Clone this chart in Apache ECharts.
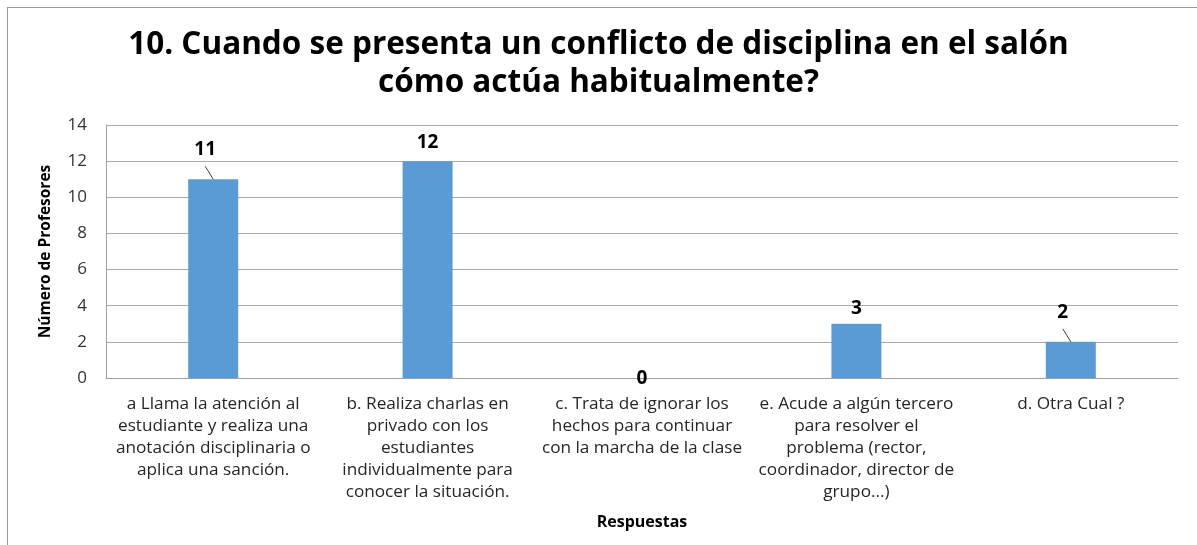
<!DOCTYPE html>
<html><head><meta charset="utf-8">
<script src="https://cdn.jsdelivr.net/npm/echarts@6/dist/echarts.min.js"></script>
<style>
html,body{margin:0;padding:0;background:#fff;}
#frame{position:absolute;left:7px;top:7px;width:1200px;height:545px;border-left:1px solid #9a9a9a;border-top:1px solid #9a9a9a;}
#c{position:absolute;left:0;top:0;width:1197px;height:545px;}
</style></head>
<body>
<div id="frame"></div>
<div id="c"></div>
<script>
const titleText = "10. Cuando se presenta un conflicto de disciplina en el salón\ncómo actúa habitualmente?";
const categories = [
  "a Llama la atención al\nestudiante y realiza una\nanotación disciplinaria o\naplica una sanción.",
  "b. Realiza charlas en\nprivado con los\nestudiantes\nindividualmente para\nconocer la situación.",
  "c. Trata de ignorar los\nhechos para continuar\ncon la marcha de la clase",
  "e. Acude a algún tercero\npara resolver el\nproblema (rector,\ncoordinador, director de\ngrupo...)",
  "d. Otra Cual ?"
];
const values = [11, 12, 0, 3, 2];
const yTicks = [0, 2, 4, 6, 8, 10, 12, 14];
const yAxisName = "Número de Profesores";
const xAxisName = "Respuestas";
const offsetLabels = [0, 4]; // indices whose labels are moved with a leader line

const chart = echarts.init(document.getElementById('c'), null, {renderer: 'canvas'});
const FONT = "'Open Sans', 'Liberation Sans', sans-serif";
chart.setOption({
  animation: false,
  backgroundColor: 'transparent',
  title: {
    text: titleText, left: 'center', top: 21,
    textStyle: {fontFamily: FONT, fontSize: 31.5, fontWeight: 'bold', color: '#000', lineHeight: 38}
  },
  grid: {left: 106, right: 19, top: 125, bottom: 167, containLabel: false},
  xAxis: {
    type: 'category', data: categories,
    axisLine: {show: true, lineStyle: {color: '#a0a0a0', width: 1}},
    axisTick: {show: false},
    axisLabel: {interval: 0, fontFamily: FONT, fontSize: 17.2, color: '#262626', lineHeight: 22, margin: 15, align: 'center'},
    name: xAxisName, nameLocation: 'middle', nameGap: 136,
    nameTextStyle: {fontFamily: FONT, fontSize: 16, fontWeight: 'bold', color: '#000'}
  },
  yAxis: {
    type: 'value', min: yTicks[0], max: yTicks[yTicks.length - 1], interval: 2,
    axisLine: {show: true, lineStyle: {color: '#a0a0a0', width: 1}},
    axisTick: {show: false},
    splitLine: {show: true, lineStyle: {color: '#a8a8a8', width: 1}},
    axisLabel: {fontFamily: FONT, fontSize: 17, color: '#333', margin: 19},
    name: yAxisName, nameLocation: 'middle', nameGap: 52, nameRotate: 90,
    nameTextStyle: {fontFamily: FONT, fontSize: 15.5, fontWeight: 'bold', color: '#000'}
  },
  series: [{
    type: 'bar',
    data: values.map((v, i) => {
      if (i === 2) return {value: v, label: {position: 'inside', offset: [0, 1]}};
      if (offsetLabels.indexOf(i) >= 0) return {value: v, label: {offset: [-8, -14]}};
      if (i === 1) return {value: v, label: {offset: [0, -3]}};
      return v;
    }),
    barWidth: 50,
    itemStyle: {color: '#5b9bd5'},
    label: {
      show: true, position: 'top', distance: 6,
      fontFamily: FONT, fontSize: 19, fontWeight: 'bold', color: '#000'
    }
  }, {
    type: 'custom',
    silent: true,
    data: values.map((v, i) => [i, v]).filter(d => offsetLabels.indexOf(d[0]) >= 0),
    renderItem: function (params, api) {
      const p = api.coord([api.value(0), api.value(1)]);
      return {
        type: 'line',
        shape: {x1: p[0], y1: p[1], x2: p[0] - 8, y2: p[1] - 13},
        style: {stroke: '#404040', lineWidth: 1}
      };
    },
    z: 5
  }]
});
</script>
</body></html>
